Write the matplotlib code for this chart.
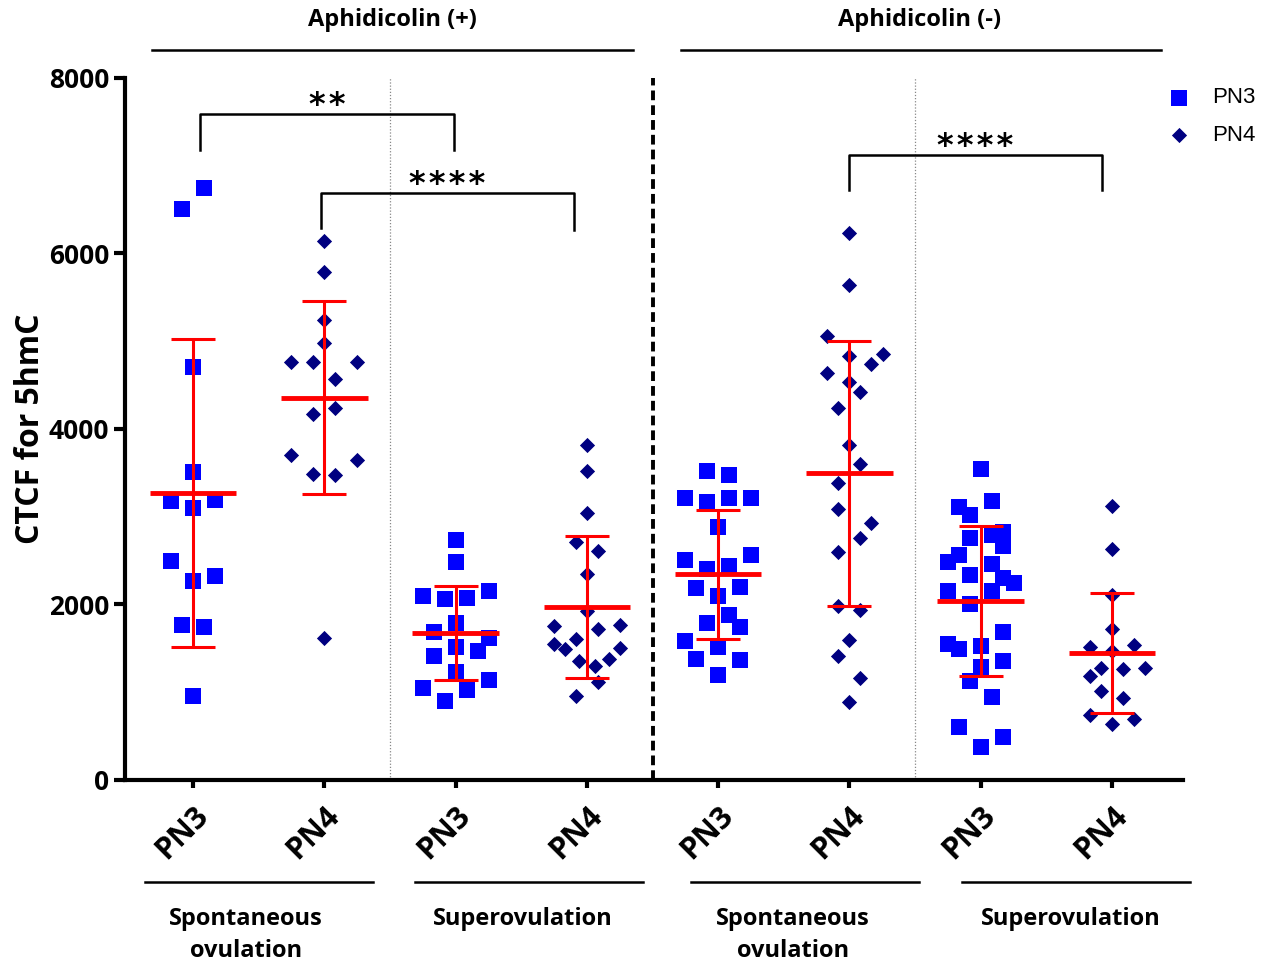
import numpy as np
import matplotlib
matplotlib.use("Agg")
import matplotlib.pyplot as plt

# Data
# ___________________________

groups = ["PN3", "PN4", "PN3", "PN4", "PN3", "PN4", "PN3", "PN4"]

g1 = [6748, 6508, 4703, 3513, 3176, 3195, 3105, 2497, 2273, 2320, 1771, 1739, 958]
g1_off = [1, -1, 0, 0, -2, 2, 0, -2, 0, 2, -1, 1, 0]

g2 = [6147, 5789, 5244, 4978, 4766, 4766, 4766, 4565, 4173, 4244, 3709, 3643, 3489, 3478, 1614]
g2_off = [0, 0, 0, 0, -3, -1, 3, 1, -1, 1, -3, 3, -1, 1, 0]

g3 = [2735, 2479, 2097, 2059, 2070, 2157, 1793, 1683, 1622, 1519, 1417, 1474, 1227, 1052, 1022, 1140, 904]
g3_off = [0, 0, -3, -1, 1, 3, 0, -2, 3, 0, -2, 2, 0, -3, 1, 3, -1]

g4 = [3814, 3518, 3039, 2708, 2613, 2348, 1930, 1759, 1724, 1770, 1546, 1603, 1489, 1508, 1356, 1383, 1299, 1113, 957]
g4_off = [0, 0, 0, -1, 1, 0, 0, -3, 1, 3, -3, -1, -2, 3, -0.7, 2, 0.7, 1, -1]

g5 = [3525, 3472, 3217, 3164, 3217, 3217, 2879, 2507, 2560, 2405, 2439, 2192, 2203, 2100, 1884, 1789, 1740,
      1588, 1512, 1383, 1368, 1197]
g5_off = [-1, 1, -3, -1, 1, 3, 0, -3, 3, -1, 1, -2, 2, 0, 1, -1, 2, -3, 0, -2, 2, 0]

g6 = [6230, 5641, 5064, 4832, 4851, 4741, 4634, 4531, 4425, 4242, 3818, 3601, 3381, 3085, 2925, 2754, 2598,
      1987, 1937, 1595, 1413, 1166, 892]
g6_off = [0, 0, -2, 0, 3, 2, -2, 0, 1, -1, 0, 1, -1, -1, 2, 1, -1, -1, 1, 0, -1, 1, 0]

g7 = [3541, 3179, 3115, 3020, 2830, 2792, 2670, 2754, 2564, 2488, 2458, 2336, 2306, 2241, 2157, 2157, 2006,
      1683, 1546, 1489, 1531, 1360, 1284, 1124, 950, 600, 494, 372]
g7_off = [0, 1, -2, -1, 2, 1, 2, -1, -2, -3, 1, -1, 2, 3, -3, 1, -1, 2, -3, -2, 0, 2, 0, -1, 1, -2, 2, 0]

g8 = [3123, 2629, 2104, 1717, 1512, 1535, 1466, 1273, 1269, 1280, 1185, 1018, 931, 737, 692, 638]
g8_off = [0, 0, 0, 0, -2, 2, 0, -1, 1, 3, -2, -1, 1, -2, 2, 0]

values = [g1, g2, g3, g4, g5, g6, g7, g8]
offsets = [g1_off, g2_off, g3_off, g4_off, g5_off, g6_off, g7_off, g8_off]

# significance brackets: x left, x right, y top, left leg end, right leg end, stars
brackets = [
    (1.053, 2.985, 7590, 7179, 7179, 2),
    (1.977, 3.900, 6689, 6290, 6268, 4),
    (5.997, 7.925, 7123, 6724, 6724, 4),
]

# Figure
# ______

plt.rcParams["font.family"] = ["Open Sans", "DejaVu Sans"]
plt.rcParams["font.weight"] = "bold"

STEP = 0.084

fig = plt.figure(figsize=(12.67, 9.64), dpi=100)
ax = fig.add_axes([0.0987, 0.1909, 0.8350, 0.7282])

for i, (vals, offs) in enumerate(zip(values, offsets)):
    xpos = i + 1
    xs = xpos + np.array(offs) * STEP
    if groups[i] == "PN3":
        ax.scatter(xs, vals, marker="s", s=120, color="#0000ff", linewidths=0, zorder=3,
                   label="PN3" if i == 0 else None)
    else:
        ax.scatter(xs, vals, marker="D", s=60, color="#000080", linewidths=0, zorder=3,
                   label="PN4" if i == 1 else None)
    m = np.mean(vals)
    sd = np.std(vals, ddof=1)
    ax.errorbar([xpos], [m], yerr=[sd], fmt="none", ecolor="red", elinewidth=2.2,
                capsize=15.5, capthick=2.2, zorder=4)
    ax.hlines(m, xpos - 0.33, xpos + 0.33, color="red", linewidth=3.5, zorder=4)

for x0, x1, yt, yl, yr, n in brackets:
    ax.plot([x0, x0, x1, x1], [yl, yt, yt, yr], color="black", linewidth=1.8, clip_on=False, zorder=5)
    ax.text((x0 + x1) / 2, yt + 95, "\u200a".join(["*"] * n), ha="center", va="center", fontsize=23,
            fontweight="bold", family="DejaVu Sans")

ax.axvline(2.5, color="#888888", linewidth=0.9, linestyle=(0, (1, 1.5)), zorder=1)
ax.axvline(6.5, color="#888888", linewidth=0.9, linestyle=(0, (1, 1.5)), zorder=1)
ax.axvline(4.5, color="black", linewidth=2.8, linestyle=(0, (2.5, 1.3)), zorder=1)

ax.set_xlim(0.482, 8.541)
ax.set_ylim(0, 8000)
ax.set_yticks([0, 2000, 4000, 6000, 8000])
ax.set_xticks(range(1, 9))
ax.set_xticklabels(groups, rotation=45, ha="right", va="top", rotation_mode="anchor", fontsize=22)
ax.tick_params(axis="y", labelsize=19, width=3, length=8)
ax.tick_params(axis="x", width=3, length=6, pad=9)
ax.set_ylabel("CTCF for 5hmC", fontsize=23, fontweight="bold", labelpad=1)

for side in ["top", "right"]:
    ax.spines[side].set_visible(False)
for side in ["left", "bottom"]:
    ax.spines[side].set_linewidth(3)

# group labels above and below the axes
trans = ax.get_xaxis_transform()
ax.plot([0.688, 4.351], [1.04, 1.04], color="black", linewidth=1.8, transform=trans, clip_on=False)
ax.plot([4.717, 8.373], [1.04, 1.04], color="black", linewidth=1.8, transform=trans, clip_on=False)
ax.text(2.516, 1.083, "Aphidicolin (+)", transform=trans, ha="center", va="center", fontsize=17)
ax.text(6.537, 1.083, "Aphidicolin (-)", transform=trans, ha="center", va="center", fontsize=17)

for x0, x1 in [(0.634, 2.371), (2.691, 4.428), (4.793, 6.530), (6.857, 8.594)]:
    ax.plot([x0, x1], [-0.145, -0.145], color="black", linewidth=1.8, transform=trans, clip_on=False)
for xc, lab in [(1.40, "Spontaneous\novulation"), (3.51, "Superovulation"),
                (5.567, "Spontaneous\novulation"), (7.684, "Superovulation")]:
    ax.text(xc, -0.181, lab, transform=trans, ha="center", va="top", fontsize=17, linespacing=1.45)

ax.legend(loc="upper left", bbox_to_anchor=(0.897, 0.930), bbox_transform=fig.transFigure,
          frameon=False, prop={"family": "Liberation Sans", "weight": "normal", "size": 16},
          handletextpad=0.5, labelspacing=0.75, scatterpoints=1)

fig.savefig("out.png", dpi=100)
